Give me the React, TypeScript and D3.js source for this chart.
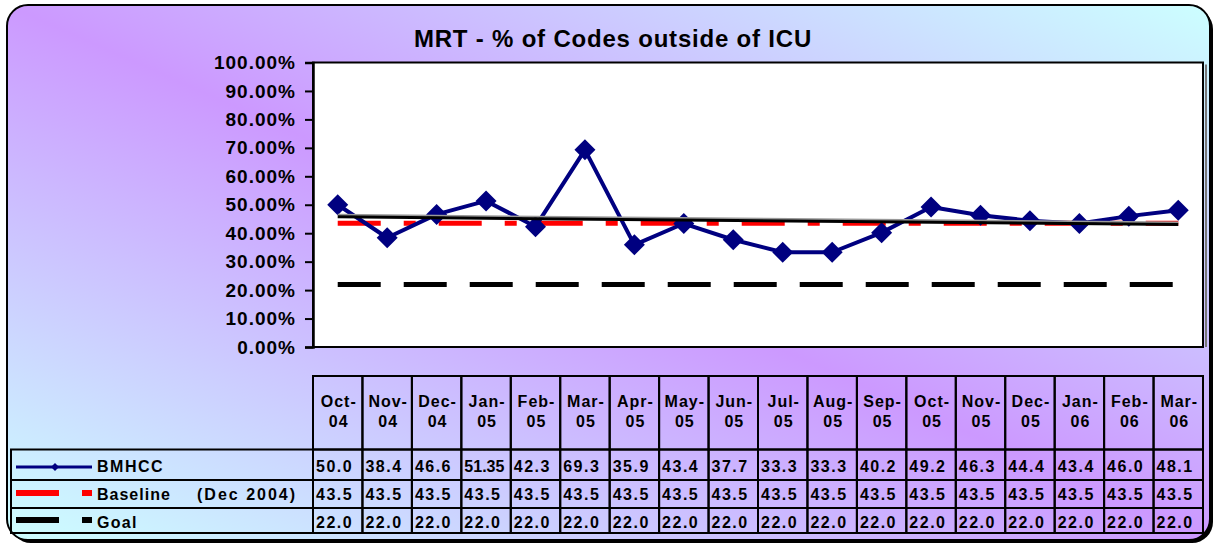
import React, { useEffect, useRef } from "react";
import * as d3 from "d3";

const months = ["Oct-04", "Nov-04", "Dec-04", "Jan-05", "Feb-05", "Mar-05", "Apr-05", "May-05", "Jun-05",
  "Jul-05", "Aug-05", "Sep-05", "Oct-05", "Nov-05", "Dec-05", "Jan-06", "Feb-06", "Mar-06"];
const bmhcc = [50.0, 38.4, 46.6, 51.35, 42.3, 69.3, 35.9, 43.4, 37.7, 33.3, 33.3, 40.2, 49.2, 46.3, 44.4, 43.4, 46.0, 48.1];
const baseline = [43.5, 43.5, 43.5, 43.5, 43.5, 43.5, 43.5, 43.5, 43.5, 43.5, 43.5, 43.5, 43.5, 43.5, 43.5, 43.5, 43.5, 43.5];
const goal = [22.0, 22.0, 22.0, 22.0, 22.0, 22.0, 22.0, 22.0, 22.0, 22.0, 22.0, 22.0, 22.0, 22.0, 22.0, 22.0, 22.0, 22.0];
const yTicks = [0, 10, 20, 30, 40, 50, 60, 70, 80, 90, 100];
const titleText = "MRT - % of Codes outside of ICU";

const FONT = "'Liberation Sans', Arial, sans-serif";

function fmtValue(v: number) {
  return Number.isInteger(Math.round(v * 100) / 10) ? v.toFixed(1) : String(v);
}

export default function App() {
  const ref = useRef<SVGSVGElement>(null);

  useEffect(() => {
    const width = 1215;
    const height = 546;
    const plot = { left: 313, right: 1203, top: 62.5, bottom: 347 };

    const svg = d3.select(ref.current);
    svg.selectAll("*").remove();

    const defs = svg.append("defs");
    const grad = defs
      .append("linearGradient")
      .attr("id", "bg")
      .attr("x1", 0)
      .attr("y1", 1)
      .attr("x2", 1)
      .attr("y2", 0);
    grad.append("stop").attr("offset", 0).attr("stop-color", "#ccffff");
    grad.append("stop").attr("offset", 0.5).attr("stop-color", "#cc99ff");
    grad.append("stop").attr("offset", 1).attr("stop-color", "#ccffff");

    // outer box + shadow
    svg
      .append("rect")
      .attr("x", 10)
      .attr("y", 8)
      .attr("width", 1203)
      .attr("height", 535)
      .attr("rx", 21)
      .attr("fill", "#000");
    svg
      .append("rect")
      .attr("x", 7)
      .attr("y", 5)
      .attr("width", 1203)
      .attr("height", 535)
      .attr("rx", 21)
      .attr("fill", "url(#bg)")
      .attr("stroke", "#000")
      .attr("stroke-width", 2);

    // title
    svg
      .append("text")
      .attr("x", 613)
      .attr("y", 47)
      .attr("text-anchor", "middle")
      .attr("font-family", FONT)
      .attr("font-weight", "bold")
      .attr("font-size", 24)
      .attr("letter-spacing", 0.8)
      .text(titleText);

    const xScale = d3.scaleBand<string>().domain(months).range([plot.left, plot.right]);
    const bw = xScale.bandwidth();
    const cx = (i: number) => (xScale(months[i]) as number) + bw / 2;
    const yScale = d3.scaleLinear().domain([0, 100]).range([plot.bottom, plot.top]);

    // plot area
    svg
      .append("line")
      .attr("x1", plot.right + 3)
      .attr("x2", plot.right + 3)
      .attr("y1", plot.top + 2)
      .attr("y2", plot.bottom)
      .attr("stroke", "#777")
      .attr("stroke-width", 2);
    svg
      .append("rect")
      .attr("x", plot.left)
      .attr("y", plot.top)
      .attr("width", plot.right - plot.left)
      .attr("height", plot.bottom - plot.top)
      .attr("fill", "#fff")
      .attr("stroke", "#000")
      .attr("stroke-width", 2);

    // y axis
    const yAxis = d3
      .axisLeft(yScale)
      .tickValues(yTicks)
      .tickSize(8)
      .tickPadding(9)
      .tickFormat((d) => (d as number).toFixed(2) + "%");
    svg
      .append("g")
      .attr("transform", `translate(${plot.left},0)`)
      .call(yAxis)
      .call((g) => g.selectAll(".domain").attr("stroke", "#000").attr("stroke-width", 2.5))
      .call((g) => g.selectAll(".tick line").attr("stroke", "#000").attr("stroke-width", 2))
      .call((g) =>
        g
          .selectAll(".tick text")
          .attr("font-family", FONT)
          .attr("font-weight", "bold")
          .attr("font-size", 19)
          .attr("letter-spacing", 1)
          .attr("fill", "#000")
      );

    const line = d3
      .line<number>()
      .x((d, i) => cx(i))
      .y((d) => yScale(d));

    // goal
    svg
      .append("path")
      .attr("d", line(goal))
      .attr("fill", "none")
      .attr("stroke", "#000")
      .attr("stroke-width", 5)
      .attr("stroke-dasharray", "43 23");

    // baseline
    svg
      .append("path")
      .attr("d", line(baseline))
      .attr("fill", "none")
      .attr("stroke", "#ff0000")
      .attr("stroke-width", 5)
      .attr("stroke-dasharray", "43 23 12 23");

    // BMHCC
    svg
      .append("path")
      .attr("d", line(bmhcc))
      .attr("fill", "none")
      .attr("stroke", "#000080")
      .attr("stroke-width", 4)
      .attr("stroke-linejoin", "round");
    svg
      .append("g")
      .selectAll("path")
      .data(bmhcc)
      .join("path")
      .attr("transform", (d, i) => `translate(${cx(i)},${yScale(d)})`)
      .attr("d", "M0,-10.5L10.5,0L0,10.5L-10.5,0Z")
      .attr("fill", "#000080");

    // linear trend of BMHCC
    const idx = d3.range(bmhcc.length);
    const mx = d3.mean(idx) as number;
    const my = d3.mean(bmhcc) as number;
    const slope =
      d3.sum(idx, (i) => (i - mx) * (bmhcc[i] - my)) / d3.sum(idx, (i) => (i - mx) * (i - mx));
    const trend = idx.map((i) => my + slope * (i - mx));
    const trendEnds = [0, trend.length - 1];
    svg
      .append("line")
      .attr("x1", cx(trendEnds[0]))
      .attr("x2", cx(trendEnds[1]))
      .attr("y1", yScale(trend[trendEnds[0]]) - 2)
      .attr("y2", yScale(trend[trendEnds[1]]) - 2)
      .attr("stroke", "#999")
      .attr("stroke-width", 2);
    svg
      .append("line")
      .attr("x1", cx(trendEnds[0]))
      .attr("x2", cx(trendEnds[1]))
      .attr("y1", yScale(trend[trendEnds[0]]))
      .attr("y2", yScale(trend[trendEnds[1]]))
      .attr("stroke", "#000")
      .attr("stroke-width", 3);

    // data table
    const headTop = 376;
    const rowTops = [449.5, 480, 508];
    const tableBottom = 533;
    const legendLeft = 11;
    const table = svg.append("g");

    months.forEach((m, i) => {
      const x0 = xScale(m) as number;
      table
        .append("rect")
        .attr("x", x0)
        .attr("y", headTop)
        .attr("width", bw)
        .attr("height", rowTops[0] - headTop)
        .attr("fill", "none")
        .attr("stroke", "#000")
        .attr("stroke-width", 2);
      const parts = m.split("-");
      [parts[0] + "-", parts[1]].forEach((t, j) => {
        table
          .append("text")
          .attr("x", x0 + bw / 2 + 1)
          .attr("y", j === 0 ? 406.5 : 426.5)
          .attr("text-anchor", "middle")
          .attr("font-family", FONT)
          .attr("font-weight", "bold")
          .attr("font-size", 16)
          .attr("letter-spacing", 1)
          .text(t);
      });
    });

    const rows = [
      { vals: bmhcc.map(fmtValue) },
      { vals: baseline.map((v) => v.toFixed(1)) },
      { vals: goal.map((v) => v.toFixed(1)) },
    ];
    const rowBase = [472, 499.5, 528];

    rows.forEach((r, k) => {
      const y0 = rowTops[k];
      const y1 = k < rowTops.length - 1 ? rowTops[k + 1] : tableBottom;
      table
        .append("rect")
        .attr("x", legendLeft)
        .attr("y", y0)
        .attr("width", plot.left - legendLeft)
        .attr("height", y1 - y0)
        .attr("fill", "none")
        .attr("stroke", "#000")
        .attr("stroke-width", 2);
      r.vals.forEach((v, i) => {
        const x0 = xScale(months[i]) as number;
        table
          .append("rect")
          .attr("x", x0)
          .attr("y", y0)
          .attr("width", bw)
          .attr("height", y1 - y0)
          .attr("fill", "none")
          .attr("stroke", "#000")
          .attr("stroke-width", 2);
        table
          .append("text")
          .attr("x", x0 + 3)
          .attr("y", rowBase[k])
          .attr("font-family", FONT)
          .attr("font-weight", "bold")
          .attr("font-size", 16)
          .attr("letter-spacing", v.length > 4 ? 0 : 1.5)
          .text(v);
      });
    });

    // legend keys
    const leg = svg.append("g");
    leg
      .append("line")
      .attr("x1", 16)
      .attr("x2", 92)
      .attr("y1", 467)
      .attr("y2", 467)
      .attr("stroke", "#000080")
      .attr("stroke-width", 3);
    leg
      .append("path")
      .attr("transform", "translate(55,467)")
      .attr("d", "M0,-4L4,0L0,4L-4,0Z")
      .attr("fill", "#000080");
    [
      { y: 490, color: "#ff0000" },
      { y: 517, color: "#000" },
    ].forEach((d) => {
      leg.append("rect").attr("x", 16).attr("y", d.y).attr("width", 43).attr("height", 6).attr("fill", d.color);
      leg.append("rect").attr("x", 82).attr("y", d.y).attr("width", 10).attr("height", 6).attr("fill", d.color);
    });
    const legendText = [
      { x: 97, y: 472, t: "BMHCC", ls: 1.5 },
      { x: 97, y: 499.5, t: "Baseline", ls: 1 },
      { x: 197, y: 499.5, t: "(Dec 2004)", ls: 2 },
      { x: 97, y: 528, t: "Goal", ls: 1.3 },
    ];
    legendText.forEach((d) => {
      leg
        .append("text")
        .attr("x", d.x)
        .attr("y", d.y)
        .attr("font-family", FONT)
        .attr("font-weight", "bold")
        .attr("font-size", 16)
        .attr("letter-spacing", d.ls)
        .text(d.t);
    });

    svg.attr("width", width).attr("height", height);
  }, []);

  return (
    <svg
      ref={ref}
      width={1215}
      height={546}
      style={{ position: "absolute", left: 0, top: 0, background: "#fff" }}
    />
  );
}
